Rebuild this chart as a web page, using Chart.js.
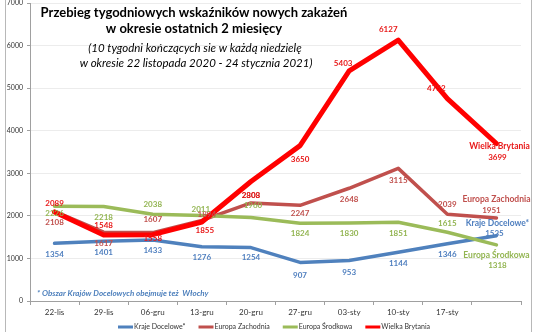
<!DOCTYPE html>
<html>
<head>
<meta charset="utf-8">
<script src="https://cdn.jsdelivr.net/npm/chart.js@4"></script>
<style>
html, body { margin: 0; padding: 0; background: #fff; }
canvas { display: block; }
</style>
</head>
<body>
<canvas id="myChart" width="536" height="332"></canvas>
<script>
// tygodnie (ostatni tydzien bez etykiety na osi)
var weeks = ['22-lis', '29-lis', '06-gru', '13-gru', '20-gru', '27-gru', '03-sty', '10-sty', '17-sty', ''];
var seriesNames = ['Kraje Docelowe*', 'Europa Zachodnia', 'Europa Środkowa', 'Wielka Brytania'];

var krajeDocelowe   = [1354, 1401, 1433, 1276, 1254, 907, 953, 1144, 1346, 1535];
var europaZachodnia = [2108, 1617, 1607, 1894, 2303, 2247, 2648, 3115, 2039, 1951];
var europaSrodkowa  = [2226, 2218, 2038, 2011, 1960, 1824, 1830, 1851, 1615, 1318];
var wielkaBrytania  = [2089, 1548, 1558, 1855, 2808, 3650, 5403, 6127, 4752, 3699];

var titleLines = ['Przebieg tygodniowych wskaźników nowych zakażeń', 'w okresie ostatnich 2 miesięcy'];
var subtitleLines = ['(10 tygodni kończących sie w każdą niedzielę', 'w okresie 22 listopada 2020 - 24 stycznia 2021)'];
var footNote = '* Obszar Krajów Docelowych obejmuje też  Włochy';

var colors = ['#4F81BD', '#C0504D', '#9BBB59', '#FF0000'];
var labelColors = ['#4F7FBF', '#C0504D', '#93B552', '#E81818'];

// przesuniecia etykiet [dx, dy] wzgledem punktu
var labelOffsets = [
    [[0, 11], [0, 11], [0, 10], [0, 11], [0, 10], [0, 13], [0, 12], [0, 11], [0, 11], [-2, -2]],
    [[0, 11], [0, 11], [0, -13], [5, -6], [0, -8], [0, 8], [0, 11], [0, 12], [0, -10], [-5, -8]],
    [[0, 7], [0, 11], [0, -10], [-1, -6], [2, -12], [0, 10], [0, 10], [0, 11], [0, -9], [1, 21]],
    [[0, -9], [0, -10], [0, 4], [3, 8], [0, 14], [0, 14], [-6, -8], [-10, -11], [-11, -10], [1, 14]]
];
var nameOffsets = [[1, -12], [0, -19], [0, 10], [3, 3]];

var labelsPlugin = {
    id: 'labelsPlugin',
    afterDatasetsDraw: function (chart) {
        var c = chart.ctx;
        c.save();
        c.textAlign = 'center';
        c.textBaseline = 'middle';
        chart.data.datasets.forEach(function (ds, i) {
            var meta = chart.getDatasetMeta(i);
            c.fillStyle = labelColors[i];
            c.font = 'bold 8px Lato';
            meta.data.forEach(function (pt, j) {
                var off = labelOffsets[i][j];
                c.fillText(String(ds.data[j]), pt.x + off[0], pt.y + off[1]);
            });
            var last = meta.data[meta.data.length - 1];
            c.font = 'bold 8.5px Lato';
            c.fillText(ds.label, last.x + nameOffsets[i][0], last.y + nameOffsets[i][1]);
        });
        c.restore();
    },
    afterDraw: function (chart) {
        var c = chart.ctx;
        c.save();
        // ramka
        c.strokeStyle = '#b8b8b8';
        c.lineWidth = 1;
        c.beginPath();
        c.moveTo(5.5, 0); c.lineTo(5.5, 332);
        c.moveTo(531.5, 0); c.lineTo(531.5, 332);
        c.stroke();

        c.fillStyle = '#000';
        c.textAlign = 'center';
        c.textBaseline = 'middle';
        c.font = 'bold 13px Lato';
        c.fillText(titleLines[0], 194, 13);
        c.fillText(titleLines[1], 194, 29);
        c.font = 'italic 11.5px Lato';
        c.fillText(subtitleLines[0], 195, 48);
        c.fillText(subtitleLines[1], 196, 63);

        c.textAlign = 'left';
        c.fillStyle = '#4F81BD';
        c.font = 'bold italic 8px Lato';
        c.fillText(footNote, 37, 293);

        // legenda
        var x = 118, y = 327;
        c.font = '7px Lato';
        chart.data.datasets.forEach(function (ds, i) {
            c.fillStyle = colors[i];
            c.fillRect(x, y - 1.5, 15, 3);
            c.fillStyle = '#333';
            c.fillText(ds.label, x + 16, y);
            x += 16 + c.measureText(ds.label).width + 13;
        });
        c.restore();
    }
};

var ctx = document.getElementById('myChart').getContext('2d');
var chart = new Chart(ctx, {
    type: 'line',
    data: {
        labels: weeks,
        datasets: [
            { label: seriesNames[0], data: krajeDocelowe, borderColor: colors[0], borderWidth: 3.5, order: 3 },
            { label: seriesNames[1], data: europaZachodnia, borderColor: colors[1], borderWidth: 3.5, order: 2 },
            { label: seriesNames[2], data: europaSrodkowa, borderColor: colors[2], borderWidth: 3.5, order: 1 },
            { label: seriesNames[3], data: wielkaBrytania, borderColor: colors[3], borderWidth: 5, order: 0 }
        ]
    },
    options: {
        responsive: false,
        animation: false,
        devicePixelRatio: 1,
        layout: { padding: { left: 0, top: 3, right: 15, bottom: 0 } },
        elements: {
            point: { radius: 0, hoverRadius: 0 },
            line: { tension: 0, fill: false, borderJoinStyle: 'round', borderCapStyle: 'round' }
        },
        plugins: {
            legend: { display: false },
            tooltip: { enabled: false },
            title: { display: false }
        },
        scales: {
            x: {
                offset: true,
                grid: { offset: true, drawOnChartArea: false, tickLength: 4, tickColor: '#a0a0a0' },
                border: { color: '#a0a0a0' },
                ticks: { color: '#333', font: { family: 'Lato', size: 8 }, padding: 3, autoSkip: false, maxRotation: 0 },
                afterFit: function (s) { s.height = 31; }
            },
            y: {
                min: 0,
                max: 7000,
                ticks: {
                    stepSize: 1000, color: '#333', font: { family: 'Lato', size: 7 }, padding: 4,
                    callback: function (v) { return String(v); }
                },
                grid: { color: '#ececec', tickLength: 3, tickColor: '#a0a0a0' },
                border: { color: '#a0a0a0' },
                afterFit: function (s) { s.width = 30; s.paddingTop = 0; s.paddingBottom = 0; }
            }
        }
    },
    plugins: [labelsPlugin]
});
</script>
</body>
</html>
